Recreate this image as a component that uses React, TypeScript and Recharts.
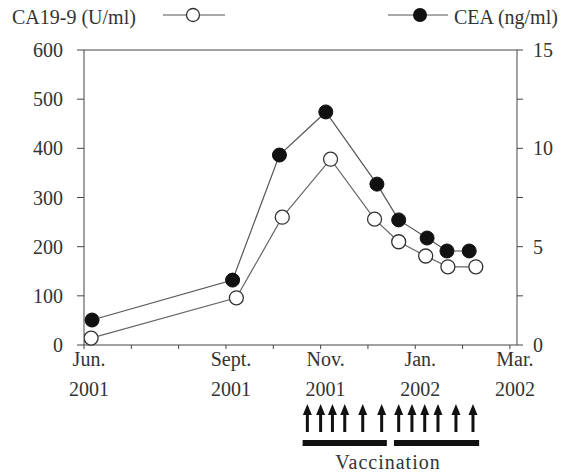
import { ComposedChart, ScatterChart, Scatter, Line, XAxis, YAxis, ReferenceLine } from 'recharts';

// months counted from Jun. 2001 (0) to Mar. 2002 (9)
const monthTicks = [0, 1, 2, 3, 4, 5, 6, 7, 8, 9];
const labelTicks = [0, 3, 5, 7, 9];
const labelMonth = ['Jun.', 'Sept.', 'Nov.', 'Jan.', 'Mar.'];
const labelYear = ['2001', '2001', '2001', '2002', '2002'];

const ca199X = [0.15, 3.22, 4.19, 5.21, 6.14, 6.65, 7.22, 7.69, 8.28];
const ca199 = [14, 96, 260, 378, 256, 210, 181, 159, 159];
const ceaX = [0.17, 3.14, 4.13, 5.11, 6.19, 6.65, 7.25, 7.67, 8.14];
const cea = [1.27, 3.3, 9.66, 11.85, 8.18, 6.36, 5.44, 4.78, 4.78];

const vaccX = [4.72, 5.0, 5.25, 5.51, 5.89, 6.29, 6.65, 6.93, 7.2, 7.48, 7.86, 8.22];
const courseStart = [4.62, 6.55];
const courseEnd = [6.4, 8.35];

const leftTicks = [0, 100, 200, 300, 400, 500, 600];
const rightTicks = [0, 2.5, 5, 7.5, 10, 12.5, 15];

const caData = ca199X.map((x, i) => ({ x, v: ca199[i] }));
const ceaData = ceaX.map((x, i) => ({ x, v: cea[i] }));
const vaccData = vaccX.map((x) => ({ x, y: 1 }));

const FONT = 'Liberation Serif, Times New Roman, Times, serif';
const AXIS = '#444';
const TEXT = '#333';
const xDomain: [number, number] = [0, 9.15];

const MonthTick = (props: any) => {
  const { x, y, payload } = props;
  const i = labelTicks.indexOf(payload.value);
  if (i < 0) return null;
  return (
    <g transform={`translate(${x + 5},${y})`}>
      <text textAnchor="middle" dy={15} fontSize={20} style={{ fontFamily: FONT }} fill={TEXT}>
        {labelMonth[i]}
      </text>
      <text textAnchor="middle" dy={45} fontSize={20} style={{ fontFamily: FONT }} fill={TEXT}>
        {labelYear[i]}
      </text>
    </g>
  );
};

const Arrow = (props: any) => {
  const { cx, cy } = props;
  return (
    <g>
      <line x1={cx} y1={cy + 8} x2={cx} y2={cy + 28} stroke="#111" strokeWidth={3} />
      <polygon points={`${cx},${cy} ${cx - 4.5},${cy + 11} ${cx + 4.5},${cy + 11}`} fill="#111" />
    </g>
  );
};

export default function App() {
  return (
    <div style={{ position: 'absolute', left: 0, top: 0, width: 571, height: 472, background: '#fff', fontFamily: FONT }}>
      <div style={{ position: 'absolute', left: 0, top: 0 }}>
        <ComposedChart width={571} height={472} margin={{ top: 50, right: 0, bottom: 0, left: 0 }}>
          <XAxis
            dataKey="x"
            type="number"
            domain={xDomain}
            ticks={monthTicks}
            interval={0}
            height={127}
            tick={<MonthTick />}
            tickSize={4}
            tickMargin={2}
            stroke={AXIS}
            allowDataOverflow
          />
          <YAxis
            yAxisId="left"
            domain={[0, 600]}
            ticks={leftTicks}
            interval={0}
            width={84}
            tickSize={7}
            tickMargin={14}
            stroke={AXIS}
            tick={{ fontSize: 20, fill: TEXT, style: { fontFamily: FONT } }}
          />
          <YAxis
            yAxisId="right"
            orientation="right"
            domain={[0, 15]}
            ticks={rightTicks}
            interval={0}
            width={54}
            tickSize={6}
            tickMargin={10}
            stroke={AXIS}
            tickFormatter={(v: number) => (v % 5 === 0 ? String(v) : '')}
            tick={{ fontSize: 20, fill: TEXT, style: { fontFamily: FONT } }}
          />
          <ReferenceLine yAxisId="left" y={600} stroke={AXIS} />
          <Line
            yAxisId="left"
            data={caData}
            dataKey="v"
            stroke="#666"
            strokeWidth={1.2}
            dot={{ r: 7, fill: '#fff', stroke: '#333', strokeWidth: 1.3 }}
            isAnimationActive={false}
          />
          <Line
            yAxisId="right"
            data={ceaData}
            dataKey="v"
            stroke="#555"
            strokeWidth={1.2}
            dot={{ r: 7, fill: '#111', stroke: '#111', strokeWidth: 1 }}
            isAnimationActive={false}
          />
        </ComposedChart>
      </div>
      <div style={{ position: 'absolute', left: 0, top: 395 }}>
        <ScatterChart width={571} height={65} margin={{ top: 9, right: 54, bottom: 17, left: 84 }}>
          <XAxis dataKey="x" type="number" domain={xDomain} hide />
          <YAxis dataKey="y" type="number" domain={[0, 1]} hide />
          <Scatter data={vaccData} shape={<Arrow />} isAnimationActive={false} />
          {courseStart.map((s, i) => (
            <ReferenceLine
              key={i}
              segment={[
                { x: s, y: 0 },
                { x: courseEnd[i], y: 0 },
              ]}
              stroke="#111"
              strokeWidth={6}
            />
          ))}
        </ScatterChart>
      </div>
      <svg width={571} height={472} style={{ position: 'absolute', left: 0, top: 0, pointerEvents: 'none', fontFamily: FONT }}>
        <text x={12} y={24} fontSize={20} fill={TEXT}>
          CA19-9 (U/ml)
        </text>
        <line x1={163} y1={15} x2={225} y2={15} stroke="#555" strokeWidth={1.2} />
        <circle cx={193} cy={15} r={6.5} fill="#fff" stroke="#333" strokeWidth={1.3} />
        <line x1={388} y1={15} x2={448} y2={15} stroke="#555" strokeWidth={1.2} />
        <circle cx={420} cy={15} r={7} fill="#111" />
        <text x={454} y={24} fontSize={20} fill={TEXT}>
          CEA (ng/ml)
        </text>
        <text x={388} y={469} textAnchor="middle" fontSize={20} letterSpacing={1} fill={TEXT}>
          Vaccination
        </text>
      </svg>
    </div>
  );
}
